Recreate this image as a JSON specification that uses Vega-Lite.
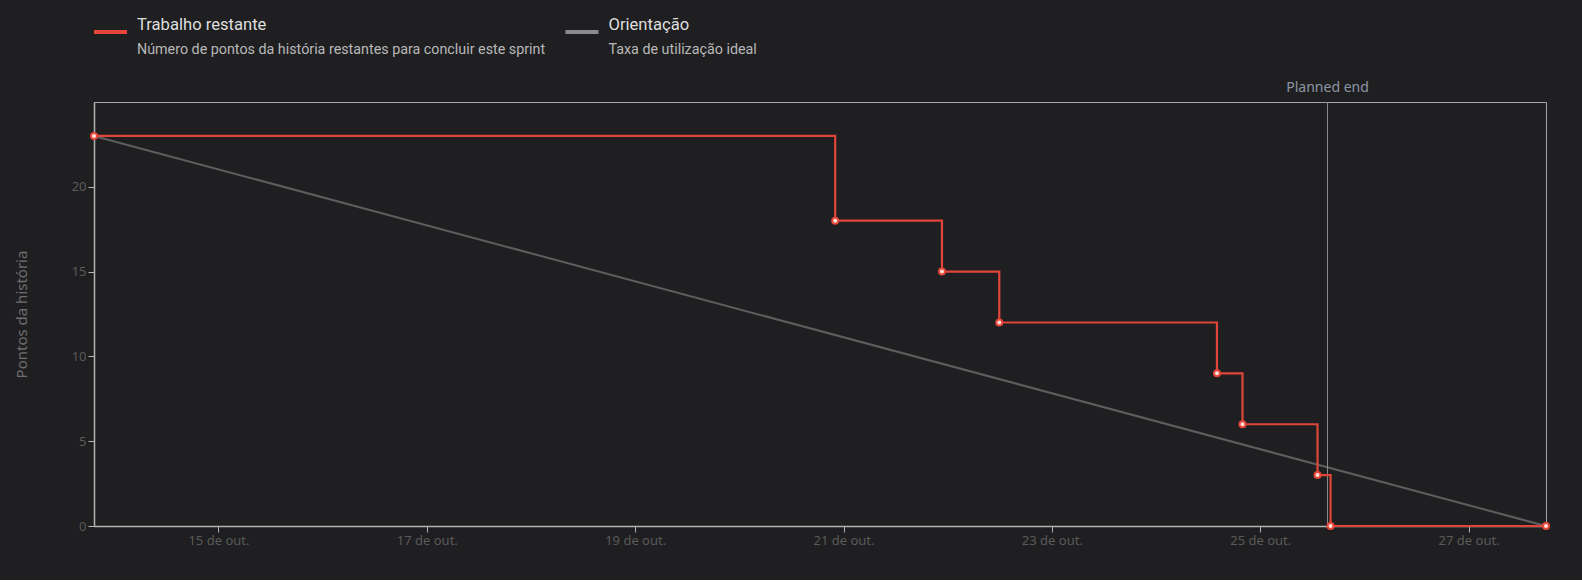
{
  "$schema": "https://vega.github.io/schema/vega-lite/v6.json",
  "background": "#1f1f21",
  "padding": {"left": 13, "right": 32, "top": 0, "bottom": 32},
  "autosize": {"type": "pad"},
  "bounds": "flush",
  "spacing": 32,
  "config": {
    "font": "Noto Sans",
    "axis": {
      "grid": false,
      "domainColor": "#b3b3b3",
      "domainWidth": 1.5,
      "tickColor": "#b3b3b3",
      "tickSize": 6,
      "labelColor": "#5a5a5a",
      "labelFontSize": 13,
      "labelFont": "Noto Sans",
      "labelPadding": 2,
      "titleFont": "Noto Sans",
      "titleColor": "#6e6e6e",
      "titleFontWeight": "normal",
      "titleFontSize": 15
    },
    "view": {"stroke": "#a5a5a5"}
  },
  "datasets": {
    "legenda": [
      {"serie": "Trabalho restante", "descricao": "Número de pontos da história restantes para concluir este sprint"},
      {"serie": "Orientação", "descricao": "Taxa de utilização ideal"}
    ],
    "restante": [
      {"data": "2023-10-13T19:20", "pontos": 23},
      {"data": "2023-10-20T22:05", "pontos": 18},
      {"data": "2023-10-21T22:41", "pontos": 15},
      {"data": "2023-10-22T11:53", "pontos": 12},
      {"data": "2023-10-24T14:02", "pontos": 9},
      {"data": "2023-10-24T19:55", "pontos": 6},
      {"data": "2023-10-25T13:12", "pontos": 3},
      {"data": "2023-10-25T16:12", "pontos": 0},
      {"data": "2023-10-27T17:50", "pontos": 0}
    ],
    "orientacao": [
      {"data": "2023-10-13T19:20", "pontos": 23},
      {"data": "2023-10-27T17:50", "pontos": 0}
    ],
    "fim": [
      {"data": "2023-10-25T15:30", "rotulo": "Planned end"}
    ]
  },
  "vconcat": [
    {
      "width": 1452,
      "height": 70,
      "view": {"stroke": null},
      "data": {"name": "legenda"},
      "encoding": {
        "x": {
          "field": "serie",
          "type": "nominal",
          "scale": {"type": "point", "domain": ["Trabalho restante", "Orientação"], "range": [16.5, 488], "padding": 0},
          "axis": null
        }
      },
      "layer": [
        {
          "mark": {"type": "point", "shape": "stroke", "size": 1089, "strokeWidth": 4, "filled": false, "opacity": 1, "yOffset": -3},
          "encoding": {
            "color": {
              "field": "serie",
              "type": "nominal",
              "scale": {"domain": ["Trabalho restante", "Orientação"], "range": ["#e5483a", "#8b8b8f"]},
              "legend": null
            }
          }
        },
        {
          "mark": {"type": "text", "align": "left", "baseline": "middle", "dx": 26.5, "dy": -10, "font": "Roboto", "fontSize": 16.6, "fontWeight": "normal", "color": "#dedede"},
          "encoding": {"text": {"field": "serie"}}
        },
        {
          "mark": {"type": "text", "align": "left", "baseline": "middle", "dx": 26.5, "dy": 15, "font": "Roboto", "fontSize": 14.3, "color": "#b8b8b8"},
          "encoding": {"text": {"field": "descricao"}}
        }
      ]
    },
    {
      "width": 1452,
      "height": 424,
      "view": {"stroke": "#a5a5a5"},
      "encoding": {
        "x": {
          "field": "data",
          "type": "temporal",
          "scale": {
            "domain": [
              {"year": 2023, "month": 10, "date": 13, "hours": 19, "minutes": 20},
              {"year": 2023, "month": 10, "date": 27, "hours": 17, "minutes": 50}
            ],
            "nice": false
          },
          "axis": {"title": null, "format": "%d de out.", "tickCount": {"interval": "day", "step": 2}}
        }
      },
      "layer": [
        {
          "data": {"name": "orientacao"},
          "mark": {"type": "line", "color": "#5e5e5e", "strokeWidth": 2},
          "encoding": {
            "y": {
              "field": "pontos",
              "type": "quantitative",
              "scale": {"domain": [0, 25], "nice": false},
              "axis": {"title": "Pontos da história", "values": [0, 5, 10, 15, 20], "titlePadding": 42}
            }
          }
        },
        {
          "data": {"name": "fim"},
          "mark": {"type": "rule", "color": "#8a8a8a", "strokeWidth": 1},
          "encoding": {}
        },
        {
          "data": {"name": "fim"},
          "mark": {"type": "text", "dy": -14, "baseline": "middle", "fontSize": 14, "color": "#8e96a3"},
          "encoding": {
            "y": {"datum": 25, "type": "quantitative"},
            "text": {"field": "rotulo"}
          }
        },
        {
          "data": {"name": "restante"},
          "mark": {"type": "line", "interpolate": "step-after", "color": "#e0453a", "strokeWidth": 2.2},
          "encoding": {"y": {"field": "pontos", "type": "quantitative"}}
        },
        {
          "data": {"name": "restante"},
          "mark": {"type": "point", "filled": true, "fill": "#ffe1da", "stroke": "#e5483a", "strokeWidth": 2, "size": 36, "opacity": 1},
          "encoding": {"y": {"field": "pontos", "type": "quantitative"}}
        }
      ]
    }
  ]
}
